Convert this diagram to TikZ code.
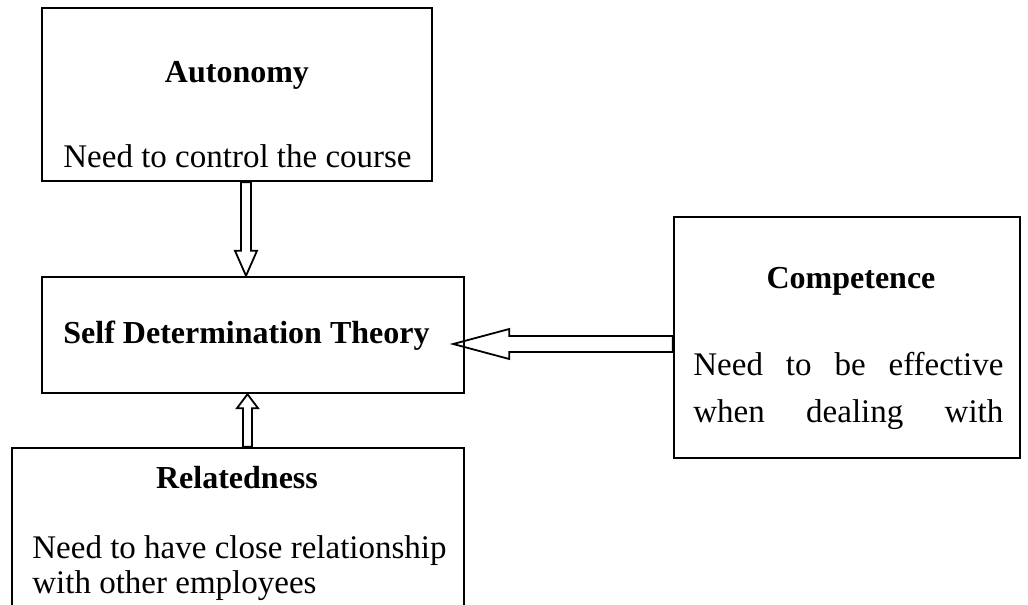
\documentclass[tikz,border=0pt]{standalone}
\usepackage{fontspec}
\setmainfont{Liberation Serif}
\usetikzlibrary{calc}

\tikzset{
  box/.style={rectangle,draw=black,line width=1.2pt,inner sep=0pt},
  txt/.style={inner sep=0pt,font=\fontsize{16.5}{20}\selectfont},
  heading/.style={inner sep=0pt,font=\fontsize{16}{19}\selectfont\bfseries},
  arrowline/.style={draw=black,line width=0.9pt,line join=miter},
  % hollow block arrow: shaft half width, head half width, head length
  blockarrow/.style n args={3}{
    to path={($(\tikztostart)!#1!90:(\tikztotarget)$)
      -- ($($(\tikztotarget)!#3!(\tikztostart)$)!#1!90:(\tikztotarget)$)
      -- ($($(\tikztotarget)!#3!(\tikztostart)$)!#2!90:(\tikztotarget)$)
      -- (\tikztotarget)
      -- ($($(\tikztotarget)!#3!(\tikztostart)$)!#2!-90:(\tikztotarget)$)
      -- ($($(\tikztotarget)!#3!(\tikztostart)$)!#1!-90:(\tikztotarget)$)
      -- ($(\tikztostart)!#1!-90:(\tikztotarget)$)
      -- cycle}},
}

\begin{document}
\begin{tikzpicture}[x=0.5pt,y=-0.5pt]
	\clip (0,0) rectangle (1028,605);

	% boxes
	\node[box,minimum width=195pt,minimum height=86.5pt] (auto) at (237,94.5) {};
	\node[box,minimum width=211pt,minimum height=58pt] (sdt) at (253,335) {};
	\node[box,minimum width=173pt,minimum height=120.5pt] (comp) at (847,337.5) {};
	\node[box,minimum width=226pt,minimum height=88.5pt] (rel) at (238,536.5) {};

	% texts
	\node[heading,anchor=base] (autotitle) at (237,82) {Autonomy};
	\node[txt,anchor=base west] (autotext) at (63,167) {Need to control the course};
	\node[heading,anchor=base west] (sdttitle) at (63,343) {Self Determination Theory};
	\node[heading,anchor=base] (comptitle) at (851,288) {Competence};
	\node[txt,anchor=base west] (comptext1) at (693,375) {\makebox[155pt][s]{Need to be effective}};
	\node[txt,anchor=base west] (comptext2) at (693,422) {\makebox[155pt][s]{when dealing with}};
	\node[heading,anchor=base] (reltitle) at (237,488) {Relatedness};
	\node[txt,anchor=base west] (reltext1) at (32,558) {Need to have close relationship};
	\node[txt,anchor=base west] (reltext2) at (32,593) {with other employees};

	% arrows
	\draw[arrowline] (246,0 |- auto.south) to[blockarrow={2.5pt}{5.5pt}{12.5pt}] (246,0 |- sdt.north);
	\draw[arrowline] (comp.west |- 0,344) to[blockarrow={4pt}{7.5pt}{28pt}] ([xshift=-6pt]sdt.east |- 0,344);
	\draw[arrowline] (247.5,0 |- rel.north) to[blockarrow={2.25pt}{5.25pt}{7pt}] (247.5,0 |- sdt.south);
\end{tikzpicture}
\end{document}
